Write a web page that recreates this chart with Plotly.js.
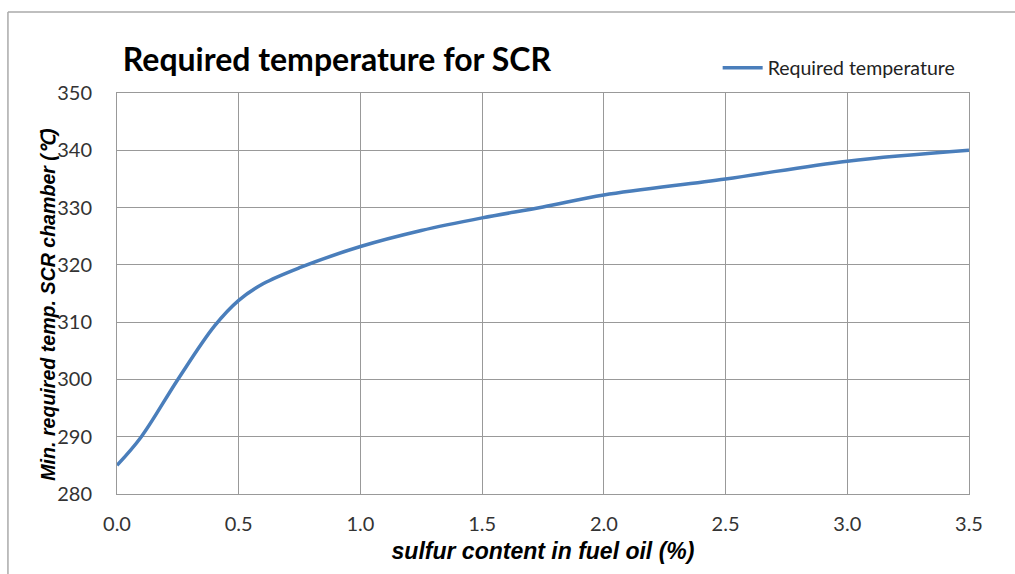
<!DOCTYPE html>
<html>
<head>
<meta charset="utf-8">
<script src="https://cdn.plot.ly/plotly-3.0.1.min.js"></script>
<style>html,body{margin:0;padding:0;background:#fff;}#chart{width:1015px;height:574px;}</style>
</head>
<body>
<div id="chart"></div>
<script>
const sulfur = [0, 0.1, 0.25, 0.4, 0.5, 0.6, 0.75, 1.0, 1.25, 1.5, 1.75, 2.0, 2.5, 3.0, 3.5];
const temperature = [285, 290, 300, 309.3, 313.8, 316.7, 319.5, 323.2, 326, 328.2, 330.1, 332.2, 335, 338.1, 340];
const xTicks = [0, 0.5, 1.0, 1.5, 2.0, 2.5, 3.0, 3.5];
const xTickLabels = ["0.0", "0.5", "1.0", "1.5", "2.0", "2.5", "3.0", "3.5"];
const yTicks = [280, 290, 300, 310, 320, 330, 340, 350];
const seriesName = "Required temperature";
const yTitle = 'Min. required temp. SCR chamber (℃)';

const trace = {
  x: sulfur, y: temperature, type: 'scatter', mode: 'lines', name: seriesName,
  line: {color: '#4A7EBB', width: 3.5, shape: 'spline', smoothing: 1}
};

const tickFont = {family: 'Lato', size: 20, color: '#333333'};

const layout = {
  width: 1015, height: 574,
  margin: {l: 117, r: 46, t: 93, b: 80},
  paper_bgcolor: '#fff', plot_bgcolor: '#fff',
  title: {
    text: 'Required temperature for SCR',
    font: {family: 'Lato', size: 32, color: '#000', weight: 'bold'},
    xref: 'container', yref: 'container', x: 0.121, xanchor: 'left', y: 0.895, yanchor: 'middle'
  },
  showlegend: true,
  legend: {
    x: 0.705, y: 1.062, xanchor: 'left', yanchor: 'middle', bgcolor: 'rgba(0,0,0,0)',
    font: {family: 'Lato', size: 19.5, color: '#222'},
    itemwidth: 40
  },
  xaxis: {
    range: [0, 3.5], tickmode: 'array', tickvals: xTicks, ticktext: xTickLabels,
    showgrid: true, gridcolor: '#999', gridwidth: 1,
    showline: true, linecolor: '#999', linewidth: 1, mirror: true,
    ticks: '', ticklabelstandoff: 12, zeroline: false,
    tickfont: tickFont,
    title: {text: 'sulfur content in fuel oil (%)', standoff: 8,
      font: {family: 'Liberation Sans', size: 23, color: '#000', weight: 'bold', style: 'italic'}}
  },
  yaxis: {
    range: [280, 350], tickmode: 'array', tickvals: yTicks,
    showgrid: true, gridcolor: '#999', gridwidth: 1,
    showline: true, linecolor: '#999', linewidth: 1, mirror: true,
    ticks: '', ticklabelstandoff: 20, zeroline: false,
    tickfont: tickFont,
    title: {text: ''}
  },
  annotations: [{
    text: yTitle, textangle: -90, showarrow: false,
    xref: 'paper', yref: 'paper', x: (48 - 117) / 852, y: (494.5 - 305) / 401.5,
    xanchor: 'center', yanchor: 'middle',
    font: {family: 'Liberation Sans', size: 19.6, color: '#000', weight: 'bold', style: 'italic'}
  }],
  shapes: [
    {type: 'line', xref: 'paper', yref: 'paper', x0: -0.128, x1: 1.06, y0: 1.2017, y1: 1.2017, line: {color: '#aaa', width: 1.5}},
    {type: 'line', xref: 'paper', yref: 'paper', x0: -0.128, x1: -0.128, y0: 1.2017, y1: -0.2, line: {color: '#aaa', width: 1.5}}
  ]
};

Plotly.newPlot('chart', [trace], layout, {displayModeBar: false, staticPlot: true});
</script>
</body>
</html>
